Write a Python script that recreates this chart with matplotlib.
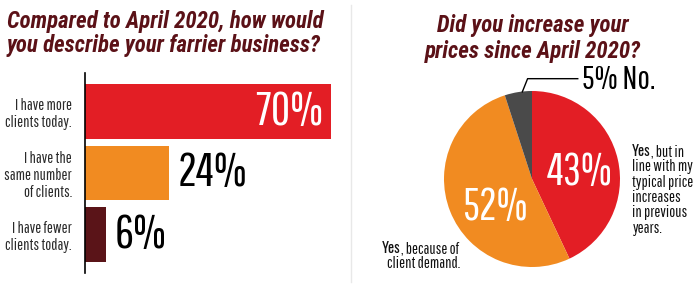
import matplotlib
matplotlib.use("Agg")
import matplotlib.pyplot as plt
from matplotlib.lines import Line2D

# ── Data ─────────────────────────────────────────────────────────────────────
bar_labels = ["I have more\nclients today.",
              "I have the\nsame number\nof clients.",
              "I have fewer\nclients today."]
bar_values = [70, 24, 6]

pie_labels = ["Yes, but in line with my typical price increases in previous years.",
              "Yes, because of client demand.",
              "No."]
pie_values = [43, 52, 5]

RED = "#e31e25"
ORANGE = "#f18b21"
MAROON = "#5a1418"
GRAY = "#4a4a4a"
TITLE = "#5b1117"

TITLE_FONT = ["Roboto Condensed", "DejaVu Sans"]
NUM_FONT = ["Pathway Gothic One", "DejaVu Sans"]
LBL_FONT = ["Pathway Gothic One", "DejaVu Sans"]
BOLD_FONT = ["Oswald", "DejaVu Sans"]

W, H = 700, 287
fig = plt.figure(figsize=(W / 100, H / 100), dpi=100)
fig.patch.set_facecolor("white")

def fx(px):
    return px / W

def fy(py):
    return 1 - py / H

# divider
fig.add_artist(Line2D([fx(351), fx(351)], [fy(5), fy(282)], color="#e8e8e8", lw=1))

# ── Left: horizontal bar chart ───────────────────────────────────────────────
title_kw = dict(fontsize=16.5, fontweight="heavy", style="italic", color=TITLE,
                family=TITLE_FONT, va="baseline")
fig.text(fx(7), fy(28), "Compared to April 2020, how would", **title_kw)
fig.text(fx(7), fy(52), "you describe your farrier business?", **title_kw)

ax = fig.add_axes([fx(85), fy(273), fx(331) - fx(85), (273 - 73) / H])
ypos = range(len(bar_values))
ax.barh(ypos, bar_values, height=0.89, color=[RED, ORANGE, MAROON])
ax.set_xlim(0, 70)
ax.set_ylim(2.62, -0.62)
for s in ["top", "right", "bottom"]:
    ax.spines[s].set_visible(False)
ax.spines["left"].set_linewidth(1.2)
ax.set_xticks([])
ax.set_yticks(list(ypos))
ax.set_yticklabels(bar_labels, family=LBL_FONT, fontsize=11.5, linespacing=1.15,
                   color="#2a2a2a")
ax.tick_params(axis="y", length=0, pad=9.5)
ax.patch.set_alpha(0)

for i, v in enumerate(bar_values):
    if i == 0:
        ax.text(v - 2.3, i, f"{v}%", ha="right", va="center", color="white",
                fontsize=34, family=NUM_FONT)
    else:
        ax.text(v + 2.4, i, f"{v}%", ha="left", va="center", color="black",
                fontsize=34, family=NUM_FONT)

# ── Right: pie chart ─────────────────────────────────────────────────────────
title_kw["ha"] = "center"
fig.text(fx(533), fy(32), "Did you increase your", **title_kw)
fig.text(fx(533), fy(58), "prices since April 2020?", **title_kw)

r = 88
pax = fig.add_axes([fx(532 - r), fy(179 + r), 2 * r / W, 2 * r / H])
wedges, _ = pax.pie(pie_values, colors=[RED, ORANGE, GRAY], startangle=90,
                    counterclock=False, radius=1)
pax.set_xlim(-1, 1)
pax.set_ylim(-1, 1)
pax.set_aspect("auto")

pax.text(0.545, 0.07, f"{pie_values[0]}%", ha="center", va="center", color="white",
         fontsize=32, family=NUM_FONT)
pax.text(-0.42, -0.32, f"{pie_values[1]}%", ha="center", va="center", color="white",
         fontsize=32, family=NUM_FONT)

# leader line for the small slice
pax.plot([-0.11, -0.05, 0.52], [0.99, 1.14, 1.14], color="black", lw=1,
         clip_on=False)
pax.text(0.57, 1.12, f"{pie_values[2]}% No.", ha="left", va="center",
         fontsize=24, family=NUM_FONT, color="black")

# right-hand annotation
x0 = fx(632)
lbl_kw = dict(fontsize=11.5, family=LBL_FONT, color="#111111", va="baseline")
t = fig.text(x0, fy(156), "Yes", fontsize=10.5, fontweight="bold", family=BOLD_FONT,
             color="#111111", va="baseline")
fig.canvas.draw()
bb = t.get_window_extent()
fig.text(bb.x1 / W, fy(156), ", but in", **lbl_kw)
for k, line in enumerate(["line with my", "typical price", "increases",
                          "in previous", "years."]):
    fig.text(x0, fy(156 + 15.3 * (k + 1)), line, **lbl_kw)

# left annotation
t2 = fig.text(fx(382), fy(253), "Yes", fontsize=10.5, fontweight="bold",
              family=BOLD_FONT, color="#111111", va="baseline")
fig.canvas.draw()
bb2 = t2.get_window_extent()
fig.text(bb2.x1 / W, fy(253), ", because of", **lbl_kw)
fig.text(fx(460), fy(268), "client demand.", ha="right", **lbl_kw)

fig.savefig("out.png", dpi=100, facecolor="white")
